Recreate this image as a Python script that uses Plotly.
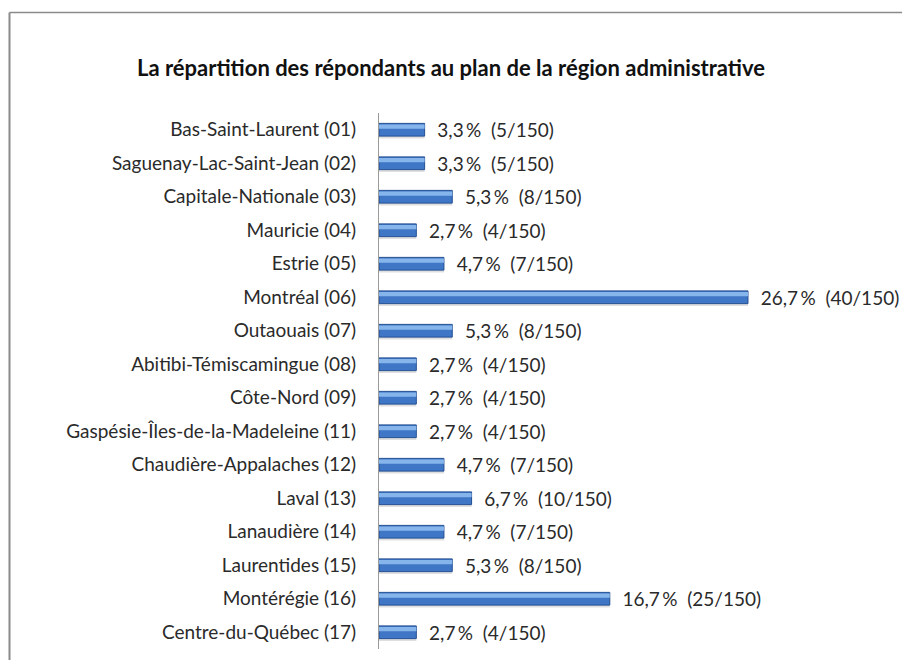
import plotly.graph_objects as go

regions = [
    "Bas-Saint-Laurent (01)", "Saguenay-Lac-Saint-Jean (02)", "Capitale-Nationale (03)",
    "Mauricie (04)", "Estrie (05)", "Montréal (06)", "Outaouais (07)",
    "Abitibi-Témiscamingue (08)", "Côte-Nord (09)", "Gaspésie-Îles-de-la-Madeleine (11)",
    "Chaudière-Appalaches (12)", "Laval (13)", "Lanaudière (14)", "Laurentides (15)",
    "Montérégie (16)", "Centre-du-Québec (17)",
]
counts = [5, 5, 8, 4, 7, 40, 8, 4, 4, 4, 7, 10, 7, 8, 25, 4]
total = 150
percents = [3.3, 3.3, 5.3, 2.7, 4.7, 26.7, 5.3, 2.7, 2.7, 2.7, 4.7, 6.7, 4.7, 5.3, 16.7, 2.7]
labels = ["\u00a0\u00a0" + f"{p:.1f}".replace(".", ",") + f"\u2009%\u00a0\u00a0({c}/{total})"
          for p, c in zip(percents, counts)]

FONT = "Lato, 'Open Sans', sans-serif"
L, R, T, B = 379, 20, 113, 11
W, H = 902, 660
px_per_unit = 13.82
xmax = (W - L - R) / px_per_unit

fig = go.Figure()
# soft shadow
fig.add_trace(go.Bar(
    y=regions, x=percents, orientation="h", width=0.38, offset=-0.12,
    marker=dict(color="rgba(110,110,110,0.22)", line=dict(width=0)),
    hoverinfo="skip", showlegend=False,
))
# main bar
fig.add_trace(go.Bar(
    y=regions, x=percents, orientation="h", width=0.38, offset=-0.19,
    marker=dict(color="#3f77c6", line=dict(color="#234f92", width=1)),
    text=labels, textposition="outside", cliponaxis=False, constraintext="none",
    textfont=dict(family=FONT, size=19, color="#2a2a2a"),
    showlegend=False,
))
# highlight
fig.add_trace(go.Bar(
    y=regions, x=percents, orientation="h", width=0.13, offset=-0.16,
    marker=dict(color="#86b5ec", line=dict(width=0)),
    hoverinfo="skip", showlegend=False,
))

fig.update_layout(
    width=W, height=H,
    margin=dict(l=L, r=R, t=T, b=B),
    barmode="overlay",
    plot_bgcolor="white", paper_bgcolor="white",
    font=dict(family=FONT, size=19, color="#2a2a2a"),
    title=dict(
        text="<b>La répartition des répondants au plan de la région administrative</b>",
        xref="container", x=451 / W, xanchor="center",
        y=1 - 68 / H, yref="container", yanchor="middle",
        font=dict(family=FONT, size=22, color="#111111"),
    ),
    xaxis=dict(range=[0, xmax], visible=False, fixedrange=True),
    yaxis=dict(
        autorange="reversed", showline=True, linecolor="#9a9a9a", linewidth=1,
        showgrid=False, ticks="", ticklabelstandoff=18, fixedrange=True,
        tickfont=dict(family=FONT, size=19, color="#2a2a2a"),
    ),
)

pw = W - L - R
ph = H - T - B
def px_x(p):
    return (p - L) / pw
def px_y(p):
    return (H - B - p) / ph

fig.add_shape(type="line", xref="paper", yref="paper",
              x0=px_x(9.5), x1=px_x(910), y0=px_y(12.5), y1=px_y(12.5),
              line=dict(color="#8a8a8a", width=1.5))
fig.add_shape(type="line", xref="paper", yref="paper",
              x0=px_x(9.5), x1=px_x(9.5), y0=px_y(12.5), y1=px_y(670),
              line=dict(color="#8a8a8a", width=2))

fig.write_html("out.html", config={"displayModeBar": False},
               post_script="document.body.style.margin='0px';")
